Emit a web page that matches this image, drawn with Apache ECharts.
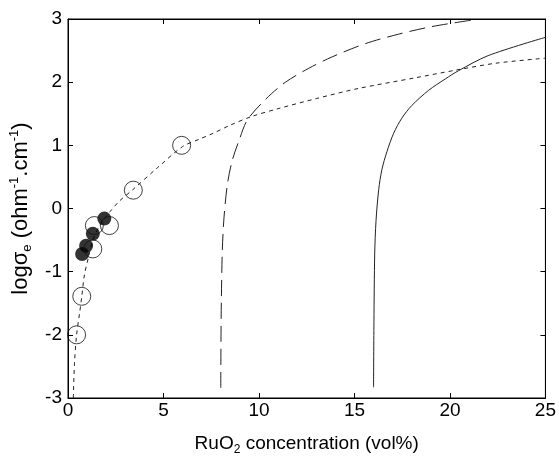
<!DOCTYPE html>
<html>
<head>
<meta charset="utf-8">
<script src="https://cdn.jsdelivr.net/npm/echarts@6/dist/echarts.min.js"></script>
<style>
  html, body { margin: 0; padding: 0; background: #fff; }
  #chart { width: 559px; height: 461px; }
</style>
</head>
<body>
<div id="chart"></div>
<script>
// ====================================
// DATA
// ====================================
const X_TICKS = [0, 5, 10, 15, 20, 25];
const Y_TICKS = [-3, -2, -1, 0, 1, 2, 3];

const openX = [0.45, 0.72, 1.30, 1.38, 2.17, 3.42, 5.95];
const openY = [-2.00, -1.39, -0.64, -0.27, -0.27, 0.29, 1.00];

const filledX = [0.74, 0.95, 1.30, 1.90];
const filledY = [-0.72, -0.59, -0.40, -0.16];

// short-dash fit curve
const fitX = [0.28, 0.34, 0.45, 0.60, 0.72, 0.86, 1.05, 1.30, 1.70, 2.20, 2.70, 3.40, 4.70, 6.00, 6.90, 7.60, 8.50, 9.65, 11.0, 13.0, 15.2, 18.2, 20.3, 22.4, 25.0];
const fitY = [-3.00, -2.45, -2.00, -1.67, -1.40, -1.05, -0.80, -0.50, -0.25, -0.05, 0.12, 0.30, 0.65, 0.98, 1.10, 1.19, 1.32, 1.46, 1.58, 1.74, 1.90, 2.07, 2.19, 2.30, 2.38];

// long-dash curve (threshold near 8)
const longX = [8.00, 8.01, 8.03, 8.08, 8.17, 8.35, 8.60, 8.96, 9.39, 10.35, 11.39, 12.61, 13.83, 15.57, 17.31, 19.05, 21.1];
const longY = [-2.84, -2.10, -1.46, -0.67, -0.14, 0.39, 0.76, 1.08, 1.40, 1.73, 2.00, 2.22, 2.40, 2.61, 2.76, 2.88, 2.98];

// solid curve (threshold near 16)
const solidX = [16.00, 16.02, 16.06, 16.13, 16.27, 16.44, 16.70, 17.05, 17.48, 18.00, 18.88, 19.75, 20.44, 22.00, 25.0];
const solidY = [-2.83, -1.80, -0.72, -0.19, 0.30, 0.62, 0.90, 1.19, 1.43, 1.63, 1.87, 2.05, 2.18, 2.42, 2.71];

// ====================================
// HELPERS
// ====================================
function pairs(xs, ys) {
  return xs.map((x, i) => [x, ys[i]]);
}

const FONT = 'Liberation Sans, Arial, sans-serif';

function axisBase() {
  return {
    axisLine: { show: true, onZero: false, lineStyle: { color: '#000', width: 1 } },
    axisTick: { show: true, inside: true, length: 5, lineStyle: { color: '#000' } },
    splitLine: { show: false }
  };
}

// ====================================
// CHART
// ====================================
const chart = echarts.init(document.getElementById('chart'));
chart.setOption({
  animation: false,
  backgroundColor: '#fff',
  grid: { left: 68, right: 12, top: 19, bottom: 63, show: true, borderColor: '#000', borderWidth: 1 },
  xAxis: [
    Object.assign(axisBase(), {
      type: 'value', min: X_TICKS[0], max: X_TICKS[X_TICKS.length - 1], interval: 5,
      name: '{a|RuO}{s|2}{a| concentration (vol%)}', nameLocation: 'middle', nameGap: 34,
      nameTextStyle: {
        fontFamily: FONT, color: '#000',
        rich: {
          a: { fontFamily: FONT, fontSize: 19, color: '#000', lineHeight: 24 },
          s: { fontFamily: FONT, fontSize: 12, color: '#000', lineHeight: 12, verticalAlign: 'bottom' }
        }
      },
      axisLabel: { fontFamily: FONT, fontSize: 19, color: '#000', margin: 3 }
    }),
    Object.assign(axisBase(), {
      type: 'value', position: 'top', min: 0, max: 25, interval: 5,
      axisLabel: { show: false }
    })
  ],
  yAxis: [
    Object.assign(axisBase(), {
      type: 'value', min: Y_TICKS[0], max: Y_TICKS[Y_TICKS.length - 1], interval: 1,
      name: '{a|log\u03c3}{s|e}{a| (ohm}{p|-1}{a|.cm}{p|-1}{a|)}', nameLocation: 'middle', nameGap: 33,
      nameTextStyle: {
        fontFamily: FONT, color: '#000',
        rich: {
          a: { fontFamily: FONT, fontSize: 22, color: '#000', lineHeight: 26 },
          s: { fontFamily: FONT, fontSize: 13, color: '#000', lineHeight: 12, verticalAlign: 'bottom' },
          p: { fontFamily: FONT, fontSize: 13, color: '#000', lineHeight: 12, verticalAlign: 'top' }
        }
      },
      axisLabel: { fontFamily: FONT, fontSize: 19, color: '#000', margin: 6 }
    }),
    Object.assign(axisBase(), {
      type: 'value', position: 'right', min: -3, max: 3, interval: 1,
      axisLabel: { show: false }
    })
  ],
  series: [
    {
      type: 'line', data: pairs(fitX, fitY), showSymbol: false, smooth: 0.3,
      lineStyle: { color: '#222', width: 1, type: [4, 4] }, z: 2
    },
    {
      type: 'line', data: pairs(longX, longY), showSymbol: false, smooth: 0.3,
      lineStyle: { color: '#222', width: 1, type: [16, 7] }, z: 2
    },
    {
      type: 'line', data: pairs(solidX, solidY), showSymbol: false, smooth: 0.3,
      lineStyle: { color: '#222', width: 1 }, z: 2
    },
    {
      type: 'scatter', data: pairs(filledX, filledY), symbol: 'circle', symbolSize: 14,
      itemStyle: { color: '#000' }, z: 3
    },
    {
      type: 'scatter', data: pairs(openX, openY), symbol: 'circle', symbolSize: 18,
      itemStyle: { color: 'rgba(0,0,0,0)', borderColor: '#111', borderWidth: 1 }, z: 4
    }
  ]
});
</script>
</body>
</html>
